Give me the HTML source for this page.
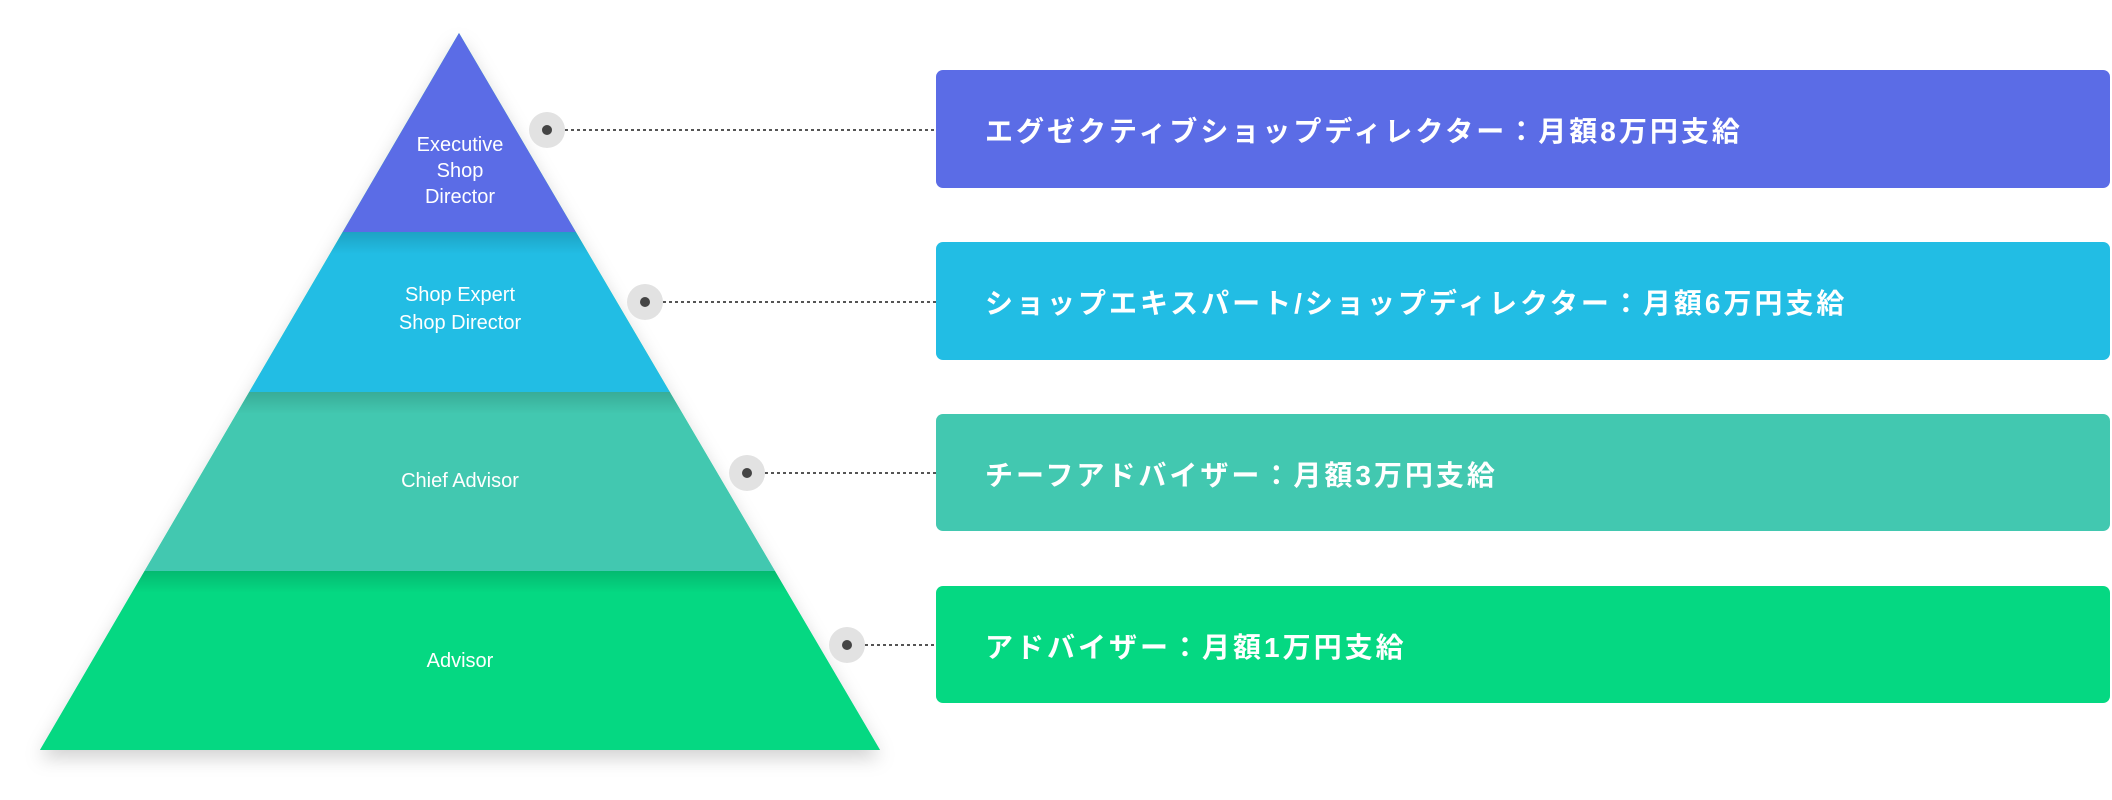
<!DOCTYPE html>
<html><head><meta charset="utf-8"><style>
html,body{margin:0;padding:0;background:#fff;}
body{width:2112px;height:800px;position:relative;overflow:hidden;font-family:"Liberation Sans","Noto Sans CJK JP",sans-serif;}
.box{position:absolute;left:936px;width:1174px;border-radius:7px;color:#fff;font-weight:bold;font-size:28px;display:flex;align-items:center;padding-left:49px;padding-top:2px;box-sizing:border-box;letter-spacing:3px;}
</style></head><body>
<svg width="2112" height="800" style="position:absolute;left:0;top:0">
<defs>
<clipPath id="tri"><polygon points="459,33 880,750 40,750"/></clipPath>
<linearGradient id="sh" x1="0" y1="0" x2="0" y2="1"><stop offset="0" stop-color="#000" stop-opacity="0.14"/><stop offset="1" stop-color="#000" stop-opacity="0"/></linearGradient>
<filter id="ds" x="-10%" y="-10%" width="120%" height="130%"><feDropShadow dx="0" dy="8" stdDeviation="9" flood-color="#000" flood-opacity="0.18"/></filter>
</defs>
<polygon points="459,33 880,750 40,750" fill="#05D882" filter="url(#ds)"/>
<g clip-path="url(#tri)">
<rect x="0" y="0" width="1000" height="232" fill="#5B6CE6"/>
<rect x="0" y="232" width="1000" height="160" fill="#22BDE4"/>
<rect x="0" y="392" width="1000" height="179" fill="#42C8B0"/>
<rect x="0" y="571" width="1000" height="179" fill="#05D882"/>
<rect x="0" y="232" width="1000" height="22" fill="url(#sh)"/>
<rect x="0" y="392" width="1000" height="22" fill="url(#sh)"/>
<rect x="0" y="571" width="1000" height="22" fill="url(#sh)"/>
</g>
<g font-family="Liberation Sans, sans-serif" font-size="20" fill="#fff" text-anchor="middle">
<text x="460" y="151">Executive</text>
<text x="460" y="177">Shop</text>
<text x="460" y="203">Director</text>
<text x="460" y="301">Shop Expert</text>
<text x="460" y="329">Shop Director</text>
<text x="460" y="487">Chief Advisor</text>
<text x="460" y="667">Advisor</text>
</g>
<g stroke="#555" stroke-width="2" stroke-dasharray="3,3">
<line x1="547" y1="130" x2="936" y2="130"/>
<line x1="645" y1="302" x2="936" y2="302"/>
<line x1="747" y1="473" x2="936" y2="473"/>
<line x1="847" y1="645" x2="936" y2="645"/>
</g>
<g fill="#e2e2e2">
<circle cx="547" cy="130" r="18"/><circle cx="645" cy="302" r="18"/><circle cx="747" cy="473" r="18"/><circle cx="847" cy="645" r="18"/>
</g>
<g fill="#444">
<circle cx="547" cy="130" r="5"/><circle cx="645" cy="302" r="5"/><circle cx="747" cy="473" r="5"/><circle cx="847" cy="645" r="5"/>
</g>
</svg>
<div class="box" style="top:70px;height:118px;background:#5B6CE6">エグゼクティブショップディレクター：月額8万円支給</div>
<div class="box" style="top:242px;height:118px;background:#22BDE4">ショップエキスパート/ショップディレクター：月額6万円支給</div>
<div class="box" style="top:414px;height:117px;background:#42C8B0">チーフアドバイザー：月額3万円支給</div>
<div class="box" style="top:586px;height:117px;background:#05D882">アドバイザー：月額1万円支給</div>
</body></html>
